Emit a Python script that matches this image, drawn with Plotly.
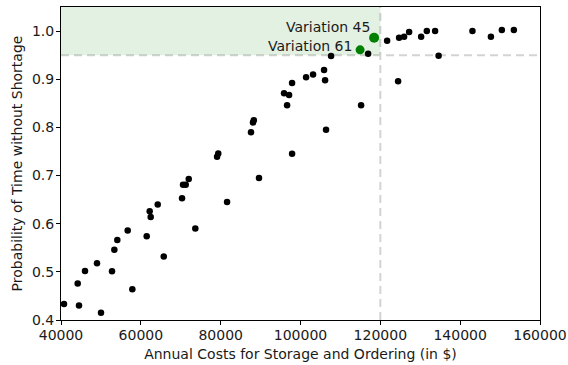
import plotly.graph_objects as go

# Annual costs (in $) and probability of time without shortage
costs = [40750, 44180, 44510, 46010, 49020, 50020, 52780, 53360, 54110, 56710,
         57870, 61470, 62220, 62470, 64230, 65740, 70320, 70570, 71240, 72000,
         73650, 79100, 79400, 81600, 87600, 88100, 88300, 89600, 95880, 96640,
         97140, 97890, 97890, 101400, 103150, 105900, 106160, 106400, 107660, 115180,
         116940, 121700, 124450, 124700, 125960, 127210, 130220, 131640, 133720, 134600,
         143080, 147700, 150440, 153450]
probs = [0.433, 0.476, 0.430, 0.502, 0.518, 0.415, 0.501, 0.546, 0.566, 0.586,
         0.464, 0.574, 0.626, 0.614, 0.640, 0.532, 0.653, 0.681, 0.681, 0.693,
         0.590, 0.739, 0.746, 0.645, 0.790, 0.810, 0.815, 0.695, 0.871, 0.846,
         0.867, 0.892, 0.745, 0.904, 0.910, 0.919, 0.898, 0.795, 0.948, 0.846,
         0.953, 0.980, 0.896, 0.986, 0.988, 0.998, 0.988, 1.000, 1.000, 0.949,
         1.000, 0.988, 1.002, 1.002]

highlight_names = ["Variation 45", "Variation 61"]
highlight_costs = [118440, 114930]
highlight_probs = [0.986, 0.961]

cost_limit = 120000
prob_limit = 0.95

x_ticks = [40000, 60000, 80000, 100000, 120000, 140000, 160000]
y_ticks = [0.4, 0.5, 0.6, 0.7, 0.8, 0.9, 1.0]

FONT = "DejaVu Sans"
TXT = "#1a1a1a"

fig = go.Figure()
fig.add_trace(go.Scatter(x=costs, y=probs, mode="markers",
                         marker=dict(color="black", size=6.5, opacity=1, line=dict(width=0)),
                         showlegend=False, cliponaxis=False))
fig.add_trace(go.Scatter(x=highlight_costs, y=highlight_probs, mode="markers",
                         marker=dict(color="#008000", size=[10, 9], opacity=1,
                                     line=dict(width=0)),
                         showlegend=False))

# shaded feasible region
fig.add_shape(type="rect", x0=40000, x1=cost_limit, y0=prob_limit, y1=1.05,
              xref="x", yref="y", fillcolor="rgba(0,128,0,0.11)", line=dict(width=0),
              layer="below")
fig.add_shape(type="line", x0=0, x1=1, xref="paper", y0=prob_limit, y1=prob_limit, yref="y",
              line=dict(color="#d3d3d3", width=2, dash="8px,5px"), layer="below")
fig.add_shape(type="line", y0=0, y1=1, yref="paper", x0=cost_limit, x1=cost_limit, xref="x",
              line=dict(color="#d3d3d3", width=2, dash="8px,5px"), layer="below")

shifts = [(-2, 11), (-6, 4)]
for name, cx, cy, (dx, dy) in zip(highlight_names, highlight_costs, highlight_probs, shifts):
    fig.add_annotation(x=cx, y=cy, text=name, showarrow=False, xanchor="right",
                       yanchor="middle", xshift=dx, yshift=dy,
                       font=dict(family=FONT, size=14, color=TXT))

axis_common = dict(showline=True, linecolor="black", linewidth=1, mirror=True,
                   ticks="outside", ticklen=4, tickcolor="black", showgrid=False,
                   zeroline=False, automargin=False,
                   tickfont=dict(family=FONT, size=14, color=TXT))

fig.update_xaxes(range=[40000, 160000], tickvals=x_ticks,
                 ticktext=[str(v) for v in x_ticks], ticklabelstandoff=-2,
                 title=dict(text="Annual Costs for Storage and Ordering (in $)",
                            font=dict(family=FONT, size=14, color=TXT), standoff=7),
                 **axis_common)
fig.update_yaxes(range=[0.4, 1.05], tickvals=y_ticks,
                 ticktext=[f"{v:.1f}" for v in y_ticks], ticklabelstandoff=-1,
                 title=dict(text="Probability of Time without Shortage",
                            font=dict(family=FONT, size=14, color=TXT), standoff=6),
                 **axis_common)

fig.update_layout(width=568, height=365, margin=dict(l=61, r=28, t=7, b=45),
                  plot_bgcolor="white", paper_bgcolor="white",
                  font=dict(family=FONT, size=14, color=TXT))

fig.write_html("out.html", config={"displayModeBar": False},
               post_script="document.body.style.margin='0';document.body.style.overflow='hidden';")
